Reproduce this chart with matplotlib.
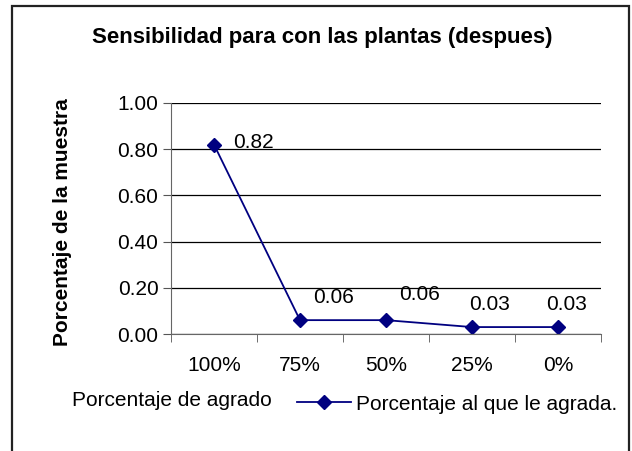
"""Line chart: sensibilidad para con las plantas (despues)."""
import matplotlib
matplotlib.use("Agg")
import matplotlib.pyplot as plt
from matplotlib.lines import Line2D
from matplotlib.patches import Rectangle

plt.rcParams["font.family"] = ["Liberation Sans", "DejaVu Sans"]

# ---------------------------------------------------------------------------
# Data
# ---------------------------------------------------------------------------
categories = ["100%", "75%", "50%", "25%", "0%"]
values = [0.82, 0.06, 0.06, 0.03, 0.03]
yticks = [0.0, 0.2, 0.4, 0.6, 0.8, 1.0]

title = "Sensibilidad para con las plantas (despues)"
ylabel = "Porcentaje de la muestra"
xlabel = "Porcentaje de agrado"
series_name = "Porcentaje al que le agrada."

NAVY = "#000080"
W, H = 632, 451
FS = 15

fig = plt.figure(figsize=(W / 100, H / 100), dpi=100)
fig.patch.set_facecolor("white")

# outer chart frame
fig.add_artist(Rectangle((12 / W, -0.05), 617 / W, 1.05 - 6 / H,
                         transform=fig.transFigure, fill=False,
                         edgecolor="#222222", linewidth=1.6))

ax = fig.add_axes([171 / W, 1 - 334 / H, 430 / W, 231 / H])
x = list(range(len(categories)))
ax.plot(x, values, color=NAVY, linewidth=1.3, marker="D", markersize=7,
        markerfacecolor=NAVY, markeredgecolor=NAVY)

ax.set_xlim(-0.5, len(categories) - 0.5)
ax.set_ylim(0, 1)
ax.set_yticks(yticks)
ax.set_yticklabels([f"{t:.2f}" for t in yticks], fontsize=FS)
ax.yaxis.grid(True, color="black", linewidth=0.9)
ax.set_axisbelow(True)

ax.set_xticks(x)
ax.set_xticklabels(categories, fontsize=FS)
ax.tick_params(axis="x", length=0, pad=16)
ax.set_xticks([i - 0.5 for i in range(len(categories) + 1)], minor=True)
ax.tick_params(axis="x", which="minor", length=6, direction="out", color="#555555")
ax.tick_params(axis="y", length=6, direction="out", pad=3, color="#555555")

for side in ("top", "right"):
    ax.spines[side].set_visible(False)
for side in ("left", "bottom"):
    ax.spines[side].set_color("#666666")

# data labels (hand-placed in the original)
offsets = [(19, 2), (13, 23), (13, 26), (-3, 23), (-12, 23)]
for xi, v, (dx, dy) in zip(x, values, offsets):
    ax.annotate(f"{v:.2f}", (xi, v), xytext=(dx * 0.72, dy * 0.72),
                textcoords="offset points", fontsize=FS,
                ha="left", va="center")

fig.text(322 / W, 1 - 37 / H, title, fontsize=16, fontweight="bold",
         ha="center", va="center")
fig.text(62 / W, 1 - 222 / H, ylabel, fontsize=FS, fontweight="bold",
         rotation=90, ha="center", va="center")
fig.text(72 / W, 1 - 400 / H, xlabel, fontsize=FS, ha="left", va="center")

handle = Line2D([], [], color=NAVY, linewidth=1.3, marker="D", markersize=7)
fig.legend([handle], [series_name], loc="center left",
           bbox_to_anchor=(297 / W, 1 - 404 / H), frameon=False,
           fontsize=FS, handlelength=2.6, handletextpad=0.25,
           borderpad=0, borderaxespad=0)

fig.savefig("out.png", dpi=100)
